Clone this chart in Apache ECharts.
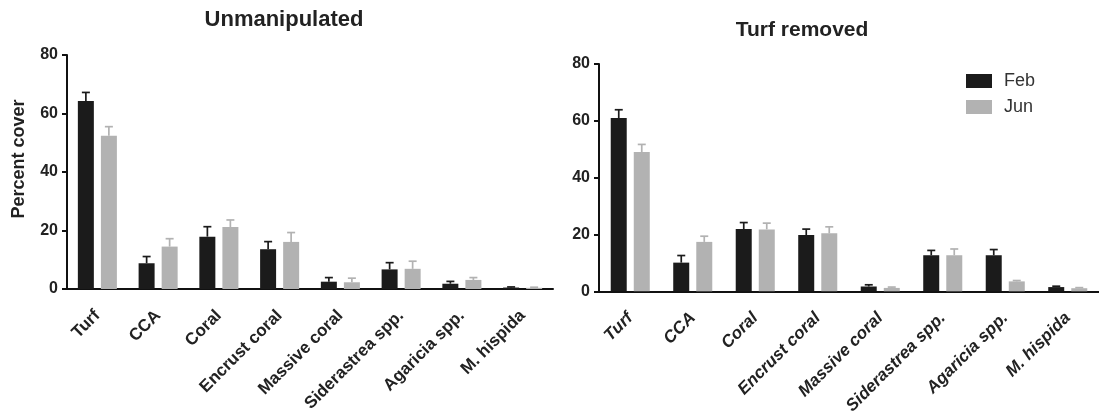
<!DOCTYPE html>
<html>
<head>
<meta charset="utf-8">
<script src="https://cdn.jsdelivr.net/npm/echarts@6/dist/echarts.min.js"></script>
<style>
html,body{margin:0;padding:0;background:#fff;}
#c{width:1099px;height:417px;}
</style>
</head>
<body>
<div id="c"></div>
<script>
const categories = ['Turf','CCA','Coral','Encrust coral','Massive coral','Siderastrea spp.','Agaricia spp.','M. hispida'];
const yTicks = [0, 20, 40, 60, 80];
const seriesNames = ['Feb', 'Jun'];

const unmanFeb    = [64.3, 8.8, 17.9, 13.6, 2.5, 6.7, 1.8, 0.5];
const unmanFebErr = [2.9, 2.3, 3.4, 2.6, 1.4, 2.3, 0.8, 0.2];
const unmanJun    = [52.4, 14.5, 21.2, 16.1, 2.3, 6.9, 3.1, 0.4];
const unmanJunErr = [3.1, 2.7, 2.4, 3.2, 1.4, 2.6, 0.8, 0.2];

const remFeb    = [61.0, 10.1, 21.9, 19.8, 1.7, 12.7, 12.7, 1.5];
const remFebErr = [2.9, 2.5, 2.3, 2.1, 0.6, 1.7, 2.0, 0.3];
const remJun    = [49.0, 17.4, 21.8, 20.4, 1.2, 12.7, 3.5, 1.1];
const remJunErr = [2.7, 2.0, 2.2, 2.3, 0.3, 2.2, 0.3, 0.2];

const FONT = '"Liberation Sans", Arial, Helvetica, sans-serif';
const DARK = '#1b1b1b';
const GRAY = '#b2b2b2';
const BAR_W = 16;
const OFF = 11.5;

function errSeries(vals, errs, idx, color, offset) {
  return {
    type: 'custom',
    xAxisIndex: idx, yAxisIndex: idx,
    silent: true,
    z: 1,
    data: vals.map((v, i) => [i, v, errs[i]]),
    renderItem: function (params, api) {
      const c = api.value(0), v = api.value(1), e = api.value(2);
      const p0 = api.coord([c, v]);
      const p1 = api.coord([c, v + e]);
      const x = p0[0] + offset;
      const st = { stroke: color, lineWidth: 1.7 };
      return {
        type: 'group',
        children: [
          { type: 'line', shape: { x1: x, y1: p0[1], x2: x, y2: p1[1] }, style: st },
          { type: 'line', shape: { x1: x - 4, y1: p1[1], x2: x + 4, y2: p1[1] }, style: st }
        ]
      };
    }
  };
}

function barSeries(name, vals, idx, color) {
  return {
    name: name, type: 'bar', xAxisIndex: idx, yAxisIndex: idx,
    data: vals, barWidth: BAR_W, barGap: '44%', z: 2,
    itemStyle: { color: color }
  };
}

function xAxisCfg(idx, italic) {
  return {
    type: 'category', gridIndex: idx, data: categories,
    axisLine: { lineStyle: { color: '#111', width: 2 } },
    axisTick: { alignWithLabel: true, length: 5, lineStyle: { color: '#111', width: 2 } },
    axisLabel: {
      rotate: 45, interval: 0, margin: 24,
      fontFamily: FONT, fontWeight: 'bold', fontSize: 17,
      fontStyle: italic ? 'italic' : 'normal', color: '#222'
    }
  };
}

function yAxisCfg(idx) {
  return {
    type: 'value', gridIndex: idx, min: yTicks[0], max: yTicks[yTicks.length - 1], interval: yTicks[1] - yTicks[0],
    axisLine: { show: true, lineStyle: { color: '#111', width: 2 } },
    axisTick: { show: true, length: 5, lineStyle: { color: '#111', width: 2 } },
    splitLine: { show: false },
    axisLabel: { margin: 9, fontFamily: FONT, fontWeight: 'bold', fontSize: 16, color: '#222' }
  };
}

const chart = echarts.init(document.getElementById('c'), null, { renderer: 'canvas' });
chart.setOption({
  animation: false,
  backgroundColor: '#fff',
  title: [
    { text: 'Unmanipulated', left: 279, top: 4, textAlign: 'center',
      textStyle: { fontFamily: FONT, fontWeight: 'bold', fontSize: 22, color: '#222' } },
    { text: 'Turf removed', left: 797, top: 15, textAlign: 'center',
      textStyle: { fontFamily: FONT, fontWeight: 'bold', fontSize: 21, color: '#222' } }
  ],
  graphic: [{
    type: 'text', x: 19, y: 159, rotation: Math.PI / 2,
    style: { text: 'Percent cover', align: 'center', verticalAlign: 'middle',
      font: 'bold 18px ' + FONT, fill: '#222' }
  }],
  legend: {
    data: seriesNames, orient: 'vertical', left: 961, top: 67,
    itemWidth: 26, itemHeight: 14, itemGap: 8,
    textStyle: { fontFamily: FONT, fontSize: 18, color: '#333', lineHeight: 18, padding: [0, 0, 0, 7] },
    icon: 'rect'
  },
  grid: [
    { left: 67, top: 55, width: 486, height: 234 },
    { left: 599, top: 64, width: 502, height: 228 }
  ],
  xAxis: [xAxisCfg(0, false), xAxisCfg(1, true)],
  yAxis: [yAxisCfg(0), yAxisCfg(1)],
  series: [
    barSeries(seriesNames[0], unmanFeb, 0, DARK),
    barSeries(seriesNames[1], unmanJun, 0, GRAY),
    barSeries(seriesNames[0], remFeb, 1, DARK),
    barSeries(seriesNames[1], remJun, 1, GRAY),
    errSeries(unmanFeb, unmanFebErr, 0, DARK, -OFF),
    errSeries(unmanJun, unmanJunErr, 0, GRAY, OFF),
    errSeries(remFeb, remFebErr, 1, DARK, -OFF),
    errSeries(remJun, remJunErr, 1, GRAY, OFF)
  ]
});
</script>
</body>
</html>
